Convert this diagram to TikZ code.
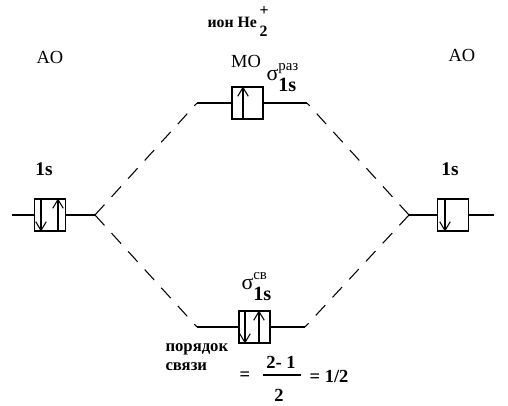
\documentclass[tikz,border=0pt]{standalone}
\usepackage{fontspec}
\setmainfont{Liberation Serif}
\usepackage{tikz}
\usetikzlibrary{arrows.meta, calc}
\newcommand{\orbsigma}[1]{{\fontsize{12.5}{14}\selectfont σ}\rlap{\raisebox{5.2pt}{\fontsize{8.5}{9}\selectfont #1}}\raisebox{-6.8pt}{\bfseries\fontsize{11.5}{13}\selectfont 1s}}

\begin{document}
\begin{tikzpicture}[x=0.02cm, y=-0.02cm, line width=0.6pt,
    orb/.style={draw, minimum width=0.62cm, minimum height=0.64cm, inner sep=0pt},
    spin/.style={-{Straight Barb[length=5pt,width=6pt]}},
    link/.style={dash pattern=on 8pt off 6pt},
    lbl/.style={font=\fontsize{10.5}{12}\selectfont, inner sep=0pt},
    lvl/.style={font=\bfseries\fontsize{11}{13}\selectfont, inner sep=0pt},
    eq/.style={font=\bfseries\fontsize{10.5}{12}\selectfont, inner sep=0pt}]
    \useasboundingbox[fill=white] (0,0) rectangle (508,406);

    % title
    \node[anchor=base west, inner sep=0pt, font=\bfseries\fontsize{9}{11}\selectfont] (title) at (207,27)
      {ион He\,\rlap{\raisebox{6.5pt}{+}}\raisebox{-5.5pt}{2}};

    % column headings
    \node[lbl, anchor=base] (aoLlbl) at (50,63) {AO};
    \node[lbl, anchor=base] (molbl) at (246,67) {MO};
    \node[lbl, anchor=base] (aoRlbl) at (462,61) {AO};

    % atomic orbitals
    \node[orb] (aoL) at (50,215) {};
    \node[orb] (aoR) at (453,215) {};
    \node[lvl, anchor=base] (sL) at (44,175) {1s};
    \node[lvl, anchor=base] (sR) at (450,175) {1s};
    \coordinate (endL) at (12,215);
    \coordinate (forkL) at (95,215);
    \coordinate (endR) at (494,215);
    \coordinate (forkR) at (409,215);
    \draw (endL) -- (aoL) -- (forkL);
    \draw (forkR) -- (aoR) -- (endR);
    \draw[spin] ($(aoL.north)+(-9,0)$) -- ($(aoL.south)+(-9,0)$);
    \draw[spin] ($(aoL.south)+(8,0)$) -- ($(aoL.north)+(8,0)$);
    \draw[spin] ($(aoR.north)+(-8,0)$) -- ($(aoR.south)+(-8,0)$);

    % molecular orbitals
    \node[orb] (moA) at (247.5,103) {};
    \node[orb] (moB) at (254.5,327) {};
    \coordinate (moAl) at (197,103);
    \coordinate (moAr) at (307,103);
    \coordinate (moBl) at (197,327);
    \coordinate (moBr) at (305,327);
    \draw (moAl) -- (moA) -- (moAr);
    \draw (moBl) -- (moB) -- (moBr);
    \draw[spin] ($(moA.south)+(-4.5,0)$) -- ($(moA.north)+(-4.5,0)$);
    \draw[spin] ($(moB.north)+(-9.5,0)$) -- ($(moB.south)+(-9.5,0)$);
    \draw[spin] ($(moB.south)+(4.5,0)$) -- ($(moB.north)+(4.5,0)$);
    \node[anchor=base west, inner sep=0pt] (sgA) at (266,80) {\orbsigma{раз}};
    \node[anchor=base west, inner sep=0pt] (sgB) at (241,289) {\orbsigma{св}};

    % correlation lines
    \draw[link] (forkL) -- (moAl);
    \draw[link] (forkL) -- (moBl);
    \draw[link] (forkR) -- (moAr);
    \draw[link] (forkR) -- (moBr);

    % bond order
    \node[anchor=base west, inner sep=0pt, align=left, font=\bfseries\fontsize{9.5}{10.3}\selectfont] (order) at (165,370)
      {порядок\\связи};
    \node[eq] (eqA) at (245,376) {=};
    \node[eq] (num) at (281,362) {2- 1};
    \node[eq] (den) at (279,395) {2};
    \coordinate (barL) at (263,375);
    \coordinate (barR) at (301,375);
    \draw (barL) -- (barR);
    \node[eq] (res) at (329,376) {= 1/2};
\end{tikzpicture}
\end{document}
